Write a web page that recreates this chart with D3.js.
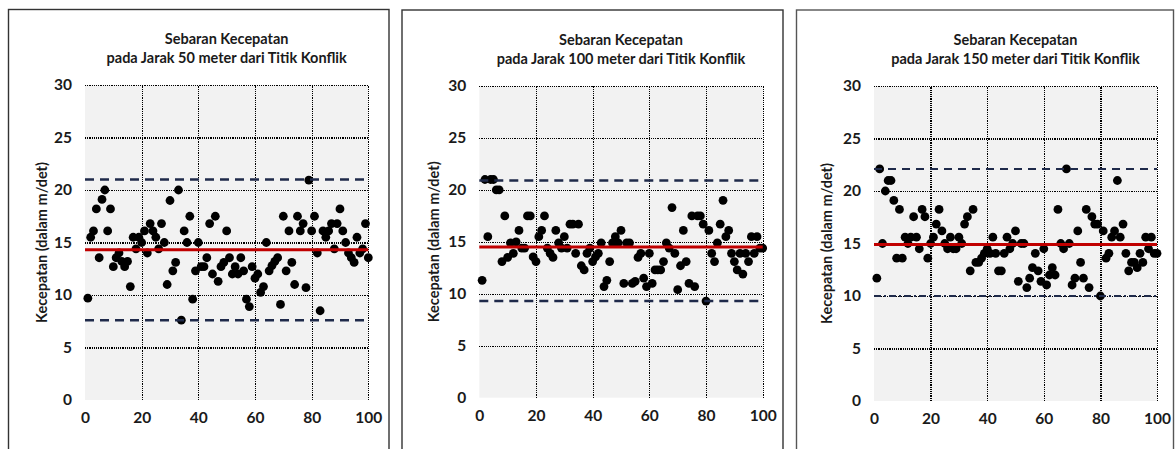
<!DOCTYPE html>
<html>
<head>
<meta charset="utf-8">
<script src="https://cdn.jsdelivr.net/npm/d3@7/dist/d3.min.js"></script>
<style>
  html, body { margin: 0; padding: 0; background: #fff; }
  svg { display: block; }
  text { font-family: Lato, "Open Sans", sans-serif; }
</style>
</head>
<body>
<svg id="chart" width="1175" height="449"></svg>
<script>
// ---- data ----
const xTicks = [0, 20, 40, 60, 80, 100];
const yTicks = [0, 5, 10, 15, 20, 25, 30];
const titleLine1 = ["Sebaran Kecepatan", "Sebaran Kecepatan", "Sebaran Kecepatan"];
const titleLine2 = [
  "pada Jarak 50 meter dari Titik Konflik",
  "pada Jarak 100 meter dari Titik Konflik",
  "pada Jarak 150 meter dari Titik Konflik"
];
const yLabel = "Kecepatan (dalam m/det)";

const speed50 = [9.7,15.5,16.1,18.2,13.55,19.1,20.0,16.1,18.2,12.7,
  13.55,14.0,13.2,12.7,13.2,10.8,15.5,14.4,15.5,15.0,
  16.1,14.0,16.8,16.1,15.5,14.4,16.8,15.0,11.0,19.0,
  12.3,13.1,20.0,7.6,16.1,15.0,17.5,9.6,12.3,15.0,
  12.7,12.7,13.55,16.8,12.0,17.5,11.3,12.7,13.1,16.1,
  13.55,12.0,12.7,12.0,13.55,12.3,9.6,8.9,12.7,11.6,
  12.0,10.25,10.8,15.0,12.3,12.8,13.2,13.55,9.1,17.5,
  12.3,16.1,13.1,11.0,17.5,16.1,16.8,10.7,20.95,16.1,
  17.5,14.0,8.5,16.1,15.5,16.1,16.8,14.4,16.8,18.2,
  16.1,15.0,14.0,13.55,13.1,15.5,14.0,14.4,16.8,13.55];

const speed100 = [11.3,21.0,15.5,21.0,21.0,20.0,20.0,13.1,17.5,13.5,
  14.9,13.9,15.0,16.1,14.4,14.4,17.5,17.5,13.55,13.1,
  15.5,16.1,17.5,14.4,13.9,13.5,16.1,14.9,14.4,15.5,
  14.4,16.7,16.7,13.9,16.7,12.7,12.3,13.9,14.4,13.1,
  13.55,13.9,14.9,10.7,11.3,13.1,14.9,15.5,14.9,16.1,
  11.0,14.9,14.9,11.0,11.2,13.5,13.9,11.5,10.7,13.9,
  11.0,12.3,12.3,12.3,13.1,14.9,14.4,18.3,13.9,10.4,
  12.7,16.1,13.1,11.0,17.5,10.7,17.5,17.5,16.7,9.3,
  16.1,13.9,13.1,14.9,16.7,19.0,15.5,16.1,13.9,13.1,
  12.3,13.9,11.9,13.9,13.1,15.5,13.9,15.5,14.4,14.4];

const speed150 = [11.7,22.1,15.0,20.0,21.0,21.0,19.1,13.6,18.25,13.6,
  15.6,15.0,15.6,17.55,15.6,14.5,18.25,17.55,13.6,15.0,
  15.6,16.85,18.25,16.2,15.0,14.5,15.6,14.5,14.5,15.6,
  15.0,16.85,17.55,12.4,18.25,13.2,13.2,13.6,14.06,14.5,
  14.06,15.6,14.06,12.4,12.4,14.06,15.6,14.5,15.0,16.2,
  11.4,15.0,15.0,10.8,11.7,12.7,14.06,12.4,11.4,14.5,
  11.05,12.0,12.7,12.0,18.25,15.0,14.5,22.1,15.0,11.05,
  11.7,16.2,13.2,11.7,18.25,10.8,17.55,16.85,16.85,10.0,
  16.2,13.6,14.06,15.6,16.2,21.0,15.6,16.85,14.06,12.4,
  13.2,13.2,12.7,14.06,13.2,15.6,14.5,15.6,14.06,14.06];

const meanLines = [14.3, 14.5, 14.9];
const upperLines = [21.0, 20.9, 22.1];
const lowerLines = [7.6, 9.3, 10.0];
const seriesList = [speed50, speed100, speed150];

// ---- layout ----
const layouts = [
  { frame: { x: 8.5, y: 9.5, r: 389 }, plot: { x0: 85, x1: 368.3, y0: 85, y1: 400 }, t1: 44, t2: 63, lab: 43 },
  { frame: { x: 402, y: 10, r: 783 }, plot: { x0: 479.3, x1: 762.7, y0: 86, y1: 397.7 }, t1: 45, t2: 64, lab: 45 },
  { frame: { x: 796.5, y: 10, r: 1173.5 }, plot: { x0: 874, x1: 1157, y0: 86, y1: 401 }, t1: 45, t2: 64, lab: 47 }
];
const lowerDash = ["9,6", "9,6", "7,3,2,3"];
const upperDash = ["9,6", "9,6", "8,6"];

const svg = d3.select("#chart");

layouts.forEach((L, i) => {
  const g = svg.append("g");
  const p = L.plot;
  const x = d3.scaleLinear().domain([0, 100]).range([p.x0, p.x1]);
  const y = d3.scaleLinear().domain([0, 30]).range([p.y1, p.y0]);

  // frame (open at bottom, extends beyond view)
  g.append("rect")
    .attr("x", L.frame.x).attr("y", L.frame.y)
    .attr("width", L.frame.r - L.frame.x).attr("height", 470)
    .attr("fill", "none").attr("stroke", i === 2 ? "#555" : "#333").attr("stroke-width", 1.4);

  // plot background
  g.append("rect")
    .attr("x", p.x0).attr("y", p.y0)
    .attr("width", p.x1 - p.x0).attr("height", p.y1 - p.y0)
    .attr("fill", "#f2f2f2");

  // grid via axes
  const gy = g.append("g").attr("transform", `translate(${p.x0},0)`)
    .call(d3.axisLeft(y).tickValues(yTicks).tickSize(-(p.x1 - p.x0)).tickPadding(13));
  const gx = g.append("g").attr("transform", `translate(0,${p.y1})`)
    .call(d3.axisBottom(x).tickValues(xTicks).tickSize(-(p.y1 - p.y0)).tickPadding(14));
  [gx, gy].forEach(ax => {
    ax.select(".domain").remove();
    ax.selectAll(".tick line")
      .attr("stroke", "#000").attr("stroke-width", 1.2).attr("stroke-dasharray", "1.2,1")
      .attr("shape-rendering", "crispEdges")
      .attr("opacity", d => d === 0 ? 0 : 1);
    ax.selectAll(".tick text")
      .attr("fill", "#1a1a1a").attr("font-size", 15.5).attr("font-weight", 700)
      .style("font-family", "Lato, 'Open Sans', sans-serif");
  });
  gx.selectAll(".tick text").attr("dy", "0.6em");

  // points
  const data = seriesList[i].map((v, k) => ({ n: k + 1, v }));
  g.append("g").selectAll("circle").data(data).join("circle")
    .attr("cx", d => x(d.n)).attr("cy", d => y(d.v))
    .attr("r", 4.4).attr("fill", "#000");

  // reference lines
  const line = d3.line().x(d => x(d[0])).y(d => y(d[1]));
  g.append("path").datum([[0, upperLines[i]], [100, upperLines[i]]])
    .attr("d", line).attr("fill", "none").attr("stroke", "#1f2a4a")
    .attr("stroke-width", i === 2 ? 2 : 2.4).attr("stroke-dasharray", upperDash[i]);
  g.append("path").datum([[0, lowerLines[i]], [100, lowerLines[i]]])
    .attr("d", line).attr("fill", "none").attr("stroke", "#1f2a4a")
    .attr("stroke-width", i === 2 ? 2 : 2.4).attr("stroke-dasharray", lowerDash[i]);
  g.append("path").datum([[0, meanLines[i]], [100, meanLines[i]]])
    .attr("d", line).attr("fill", "none").attr("stroke", "#c00000").attr("stroke-width", 3);

  // title
  const cx = (p.x0 + p.x1) / 2;
  g.append("text").attr("x", cx).attr("y", L.t1).attr("text-anchor", "middle")
    .attr("font-size", 14.5).attr("font-weight", 700).attr("fill", "#1a1a1a").text(titleLine1[i]);
  g.append("text").attr("x", cx).attr("y", L.t2).attr("text-anchor", "middle")
    .attr("font-size", 14.5).attr("font-weight", 700).attr("fill", "#1a1a1a").text(titleLine2[i]);

  // y label
  g.append("text")
    .attr("transform", `translate(${p.x0 - L.lab},${(p.y0 + p.y1) / 2}) rotate(-90)`)
    .attr("text-anchor", "middle").attr("dy", "0.35em")
    .attr("font-size", 14.5).attr("font-weight", 700).attr("fill", "#1a1a1a")
    .text(yLabel);
});
</script>
</body>
</html>
